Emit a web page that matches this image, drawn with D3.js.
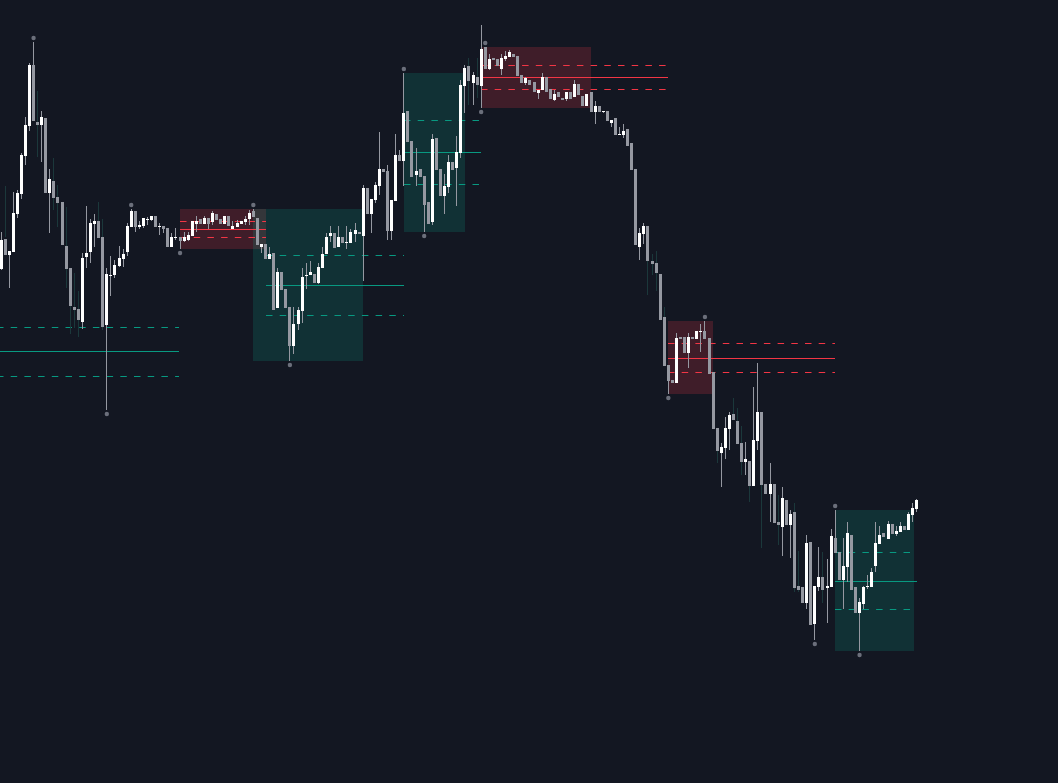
<!DOCTYPE html>
<html><head><meta charset="utf-8">
<script src="https://cdn.jsdelivr.net/npm/d3@7"></script>
<style>html,body{margin:0;padding:0;background:#131722;overflow:hidden}svg{display:block}</style>
</head><body><svg id="c" width="1058" height="783"></svg>
<script>
// ---- candle data (price units, one entry per bar) ----
const opens = [
531,561,545,548,586,606,644,674,735,678,
675,682,607,619,603,598,554,532,493,491,
478,543,548,576,579,563,475,524,525,534,
541,548,573,589,573,574,580,580,584,573,
574,572,553,562,563,559,560,564,576,581,
576,582,578,586,581,576,584,571,573,576,
578,581,589,582,553,556,541,547,492,528,
511,493,454,476,489,524,525,526,517,532,
546,564,567,553,563,557,557,566,568,564,
612,586,600,614,631,629,569,599,645,639,
689,659,625,631,624,598,578,662,631,604,
613,638,632,647,714,734,717,723,714,753,
731,742,741,731,741,743,746,744,725,717,
720,718,707,710,723,711,700,708,702,701,
708,703,716,704,694,708,688,694,688,689,
677,682,665,665,671,657,631,553,566,574,
539,537,526,483,435,420,417,463,463,447,
463,461,468,469,462,428,372,347,352,371,
386,379,357,338,339,314,359,388,316,306,
316,278,273,300,275,288,214,213,197,258,
176,213,223,212,213,262,248,220,233,265,
213,187,196,213,213,234,256,267,261,276,
266,268,274,270,285,291];
const closes = [
560,545,549,587,607,645,675,735,679,675,
683,607,621,602,597,555,531,494,490,480,
542,547,577,579,562,473,526,525,535,542,
546,574,589,573,575,582,581,584,573,574,
571,553,563,563,559,563,565,579,579,576,
582,576,587,580,576,584,574,574,577,579,
581,587,583,555,556,541,546,490,528,510,
492,454,476,490,523,525,528,517,533,546,
563,567,552,563,557,558,568,570,566,612,
586,601,615,631,628,569,600,645,639,687,
658,623,629,623,595,576,661,630,604,614,
638,630,648,715,732,719,725,715,751,731,
741,740,734,742,744,748,743,724,717,722,
715,708,710,723,708,701,706,703,700,708,
701,716,705,694,706,688,694,688,689,679,
680,665,666,669,654,630,555,567,574,539,
536,527,480,434,419,417,462,461,447,463,
461,469,469,461,426,371,349,353,372,385,
380,356,338,341,314,360,388,315,306,316,
277,275,302,275,286,212,210,197,257,175,
214,223,210,214,264,247,220,234,267,210,
187,198,213,214,228,257,265,263,276,266,
269,274,270,286,292,300];
const highs = [
568,561,549,608,610,647,683,737,758,678,
689,682,631,619,603,598,554,532,493,491,
547,594,581,586,579,563,532,544,540,554,
551,577,591,589,579,582,583,584,584,577,
574,572,567,572,563,568,568,579,584,581,
584,582,589,586,581,584,584,579,580,579,
584,590,591,582,556,556,553,547,532,528,
511,493,493,493,532,537,539,526,537,553,
567,574,567,574,563,574,571,577,568,615,
612,601,618,668,631,635,600,666,650,727,
689,659,652,631,624,598,666,662,631,626,
645,638,664,720,735,734,728,723,775,753,
746,742,741,746,749,750,746,744,725,723,
720,718,710,727,723,711,710,708,702,708,
708,720,716,704,706,708,699,694,689,689,
680,682,673,676,671,657,631,572,577,574,
539,537,526,483,435,420,467,463,463,467,
463,469,476,479,462,428,372,357,383,388,
386,379,357,358,339,413,437,388,316,337,
316,278,313,300,290,288,214,213,265,258,
214,253,223,241,271,290,248,262,278,265,
213,202,214,225,232,278,274,267,279,276,
274,278,274,288,297,301];
const lows = [
530,545,512,548,582,601,635,669,679,675,
638,607,567,602,597,555,531,494,490,480,
471,532,537,553,562,473,390,504,522,533,
533,544,573,568,571,572,575,579,573,565,
567,553,553,560,551,558,559,564,568,576,
576,571,575,580,576,576,574,571,573,576,
575,575,583,555,547,541,541,490,492,510,
492,439,446,470,477,511,525,517,516,532,
546,558,552,553,557,551,557,558,566,519,
586,567,597,605,628,560,560,599,639,614,
658,623,614,623,568,576,575,630,604,586,
607,630,594,642,687,719,695,715,692,731,
730,740,734,725,739,743,743,724,717,715,
715,708,701,710,708,701,699,703,700,699,
701,703,705,694,694,688,676,688,687,679,
673,665,665,662,654,630,555,540,556,539,
536,527,480,434,406,417,417,461,447,432,
461,461,448,461,426,371,349,313,341,350,
380,356,338,325,314,314,350,315,306,278,
277,275,244,275,242,212,210,197,191,175,
160,209,210,177,213,247,220,191,218,210,
187,149,191,211,213,228,256,263,261,266,
264,268,270,270,278,288];

// faint secondary wicks
const dimIdx  = [1,9,13,14,16,17,18,19,24,25,115,117,159,160,161,163,176,180,181,182,184,187,191,195,196,202];
const dimHigh = [614,709,642,615,593,494,527,509,598,581,742,742,574,546,549,493,349,402,392,374,314,315,305,297,249,248];
const dimLow  = [563,643,590,573,512,466,472,463,562,470,695,702,505,525,509,434,337,386,379,325,298,252,255,208,208,197];

// swing pivots
const pivotIdx  = [8,26,32,44,62,71,99,104,118,119,164,173,200,205,211];
const pivotSide = ['H','L','H','L','H','L','H','L','L','H','L','H','L','H','L'];

// zones
const zoneType   = ['bull','bear','bull','bull','bear','bear','bull'];
const zoneStart  = [-14, 44, 62, 99, 118, 164, 205];
const zoneEnd    = [-4, 65, 89, 114, 145, 175, 224.4];
const zoneTop    = [510, 591, 591, 727.3, 753, 479, 290];
const zoneBottom = [387.5, 551, 439, 568.3, 692.3, 406, 149];
const lineStart  = [-1, 44, 65, 99, 118, 164, 205];
const lineEnd    = [43.75, 65, 99, 118, 164, 205, 225];
const levelFrac  = [0.3, 0.5, 0.7];

const W = 1058, H = 783;
const svg = d3.select('#c');
svg.append('rect').attr('width',W).attr('height',H).attr('fill','#131722');

const n = opens.length;
const x = d3.scaleLinear().domain([0, n-1]).range([1.02, 1.02 + (n-1)*4.069]);
const y = d3.scaleLinear().domain([0, 800]).range([800, 0]);

const candles = d3.range(n).map(i => ({i, o:opens[i], h:highs[i], l:lows[i], c:closes[i]}));
const zones = zoneType.map((t,k)=>({t, s:zoneStart[k], e:zoneEnd[k], top:zoneTop[k], bot:zoneBottom[k], ls:lineStart[k], le:lineEnd[k]}));

const col = {
  bullFill:'rgba(8,153,129,0.2)', bearFill:'rgba(242,54,69,0.2)',
  bullLine:'#089981', bearLine:'#f23645',
  up:'#ffffff', down:'#9598a1', wick:'#9598a1', dim:'#1b383b', dot:'#6b6f7b'
};

// boxes
svg.append('g').selectAll('rect').data(zones).join('rect')
  .attr('x', d=>Math.round(x(d.s)))
  .attr('y', d=>Math.round(y(d.top)))
  .attr('width', d=>Math.round(x(d.e))-Math.round(x(d.s)))
  .attr('height', d=>Math.round(y(d.bot))-Math.round(y(d.top)))
  .attr('fill', d=>d.t==='bull'?col.bullFill:col.bearFill);

// level lines
const lines = [];
zones.forEach(z=>levelFrac.forEach(f=>{
  lines.push({z, f, v: z.top - (z.top - z.bot)*f});
}));
svg.append('g').selectAll('line').data(lines).join('line')
  .attr('x1', d=>Math.round(x(d.z.ls)))
  .attr('x2', d=>Math.round(x(d.z.le)))
  .attr('y1', d=>Math.round(y(d.v))+0.5)
  .attr('y2', d=>Math.round(y(d.v))+0.5)
  .attr('stroke', d=>d.z.t==='bull'?col.bullLine:col.bearLine)
  .attr('stroke-width',1)
  .attr('stroke-dasharray', d=>d.f===0.5?null:'6.5,7.2');

// faint wicks
svg.append('g').attr('shape-rendering','crispEdges').selectAll('rect')
  .data(dimIdx.map((k,j)=>({k, h:dimHigh[j], l:dimLow[j]}))).join('rect')
  .attr('x', d=>Math.round(x(d.k)-1.5)+1)
  .attr('width',1)
  .attr('y', d=>Math.round(y(d.h)))
  .attr('height', d=>Math.max(1, Math.round(y(d.l))-Math.round(y(d.h))))
  .attr('fill', col.dim);

// candles
const g = svg.append('g').attr('shape-rendering','crispEdges');
const cg = g.selectAll('g').data(candles).join('g');
cg.append('rect')
  .attr('x', d=>Math.round(x(d.i)-1.5)+1)
  .attr('width',1)
  .attr('y', d=>Math.round(y(d.h)))
  .attr('height', d=>Math.max(1, Math.round(y(d.l))-Math.round(y(d.h))))
  .attr('fill', col.wick);
cg.append('rect')
  .attr('x', d=>Math.round(x(d.i)-1.5))
  .attr('width',3)
  .attr('y', d=>Math.round(y(Math.max(d.o,d.c))))
  .attr('height', d=>Math.max(1, Math.round(y(Math.min(d.o,d.c)))-Math.round(y(Math.max(d.o,d.c)))))
  .attr('fill', d=>d.c>=d.o?col.up:col.down);

// pivot dots
svg.append('g').selectAll('circle')
  .data(pivotIdx.map((k,j)=>({k, s:pivotSide[j]}))).join('circle')
  .attr('cx', d=>x(d.k))
  .attr('cy', d=>d.s==='H' ? y(highs[d.k])-4 : y(lows[d.k])+4)
  .attr('r',2.2)
  .attr('fill', col.dot);
</script></body></html>
